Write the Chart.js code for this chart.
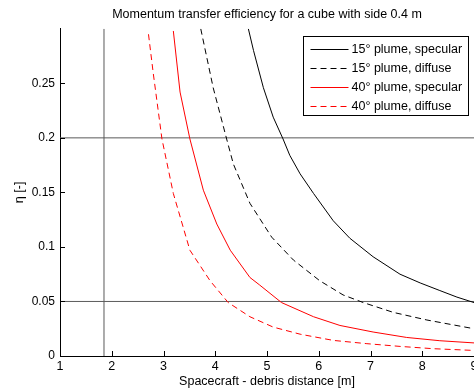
<!DOCTYPE html>
<html>
<head>
<meta charset="utf-8">
<script src="https://cdn.jsdelivr.net/npm/chart.js@4"></script>
<style>
html, body { margin: 0; padding: 0; background: #fff; }
#wrap { width: 474px; height: 392px; }
</style>
</head>
<body>
<div id="wrap"><canvas id="effChart"></canvas></div>
<script>
// values
var xTicks = [1, 2, 3, 4, 5, 6, 7, 8, 9];
var yTicks = [0, 0.05, 0.1, 0.15, 0.2, 0.25];

var spec15X = [4.64, 4.74, 4.93, 5.12, 5.31, 5.44, 5.64, 5.90, 6.28, 6.60, 7.05, 7.57, 7.96, 8.34, 8.67, 9.0];
var spec15Y = [0.300, 0.280, 0.246, 0.219, 0.199, 0.184, 0.167, 0.149, 0.124, 0.108, 0.091, 0.075, 0.067, 0.060, 0.054, 0.049];

var diff15X = [3.72, 3.96, 4.22, 4.35, 4.67, 5.09, 5.51, 6.02, 6.47, 6.86, 7.44, 8.09, 9.0];
var diff15Y = [0.300, 0.246, 0.199, 0.176, 0.140, 0.109, 0.088, 0.069, 0.056, 0.049, 0.040, 0.033, 0.025];

var spec40X = [3.19, 3.32, 3.51, 3.77, 4.03, 4.29, 4.67, 4.86, 5.28, 5.90, 6.41, 7.05, 7.70, 8.34, 9.0];
var spec40Y = [0.298, 0.242, 0.199, 0.152, 0.121, 0.097, 0.072, 0.065, 0.049, 0.036, 0.028, 0.022, 0.017, 0.014, 0.012];

var diff40X = [2.71, 2.80, 2.97, 3.19, 3.51, 3.90, 4.25, 4.67, 5.12, 5.64, 6.28, 6.93, 7.57, 8.21, 9.0];
var diff40Y = [0.295, 0.260, 0.199, 0.149, 0.097, 0.069, 0.049, 0.036, 0.0265, 0.020, 0.0143, 0.0113, 0.0088, 0.0067, 0.0051];

// threshold lines
var limitEta = [0.2, 0.05];
var limitDist = [1.85];

var xMin = 1, xMax = 9, yMin = 0, yMax = 0.3;
var chartTitle = 'Momentum transfer efficiency for a cube with side 0.4 m';

function pts(xs, ys) {
    return xs.map(function (x, i) { return { x: x, y: ys[i] }; });
}

var fontFam = '"Liberation Sans", Arial, Helvetica, sans-serif';
Chart.defaults.font.family = fontFam;
Chart.defaults.color = '#000';

var datasets = [
    { label: '15\u00b0 plume, specular', data: pts(spec15X, spec15Y), borderColor: '#000', borderDash: [] },
    { label: '15\u00b0 plume, diffuse', data: pts(diff15X, diff15Y), borderColor: '#000', borderDash: [6, 4] },
    { label: '40\u00b0 plume, specular', data: pts(spec40X, spec40Y), borderColor: '#ff0000', borderDash: [] },
    { label: '40\u00b0 plume, diffuse', data: pts(diff40X, diff40Y), borderColor: '#ff0000', borderDash: [6, 4] }
];
limitEta.forEach(function (v) {
    datasets.push({ ref: true, label: '', data: [{ x: xMin, y: v }, { x: xMax, y: v }], borderColor: '#5a5a5a' });
});
limitDist.forEach(function (v) {
    datasets.push({ ref: true, label: '', data: [{ x: v, y: yMin }, { x: v, y: yMax }], borderColor: '#5a5a5a' });
});
datasets.forEach(function (ds) {
    ds.borderWidth = 1;
    ds.pointRadius = 0;
    ds.fill = false;
    ds.tension = 0;
});

// title over the axes, inward tick marks + boxed legend, matlab style
var matlabBits = {
    id: 'matlabBits',
    afterDatasetsDraw: function (chart) {
        var ctx = chart.ctx, a = chart.chartArea;
        var xs = chart.scales.x, ys = chart.scales.y;
        ctx.save();
        ctx.fillStyle = '#000';
        ctx.font = '12.5px ' + fontFam;
        ctx.textAlign = 'center';
        ctx.textBaseline = 'middle';
        ctx.fillText(chartTitle, (a.left + a.right) / 2, 15);

        ctx.strokeStyle = '#000';
        ctx.lineWidth = 1;
        ctx.beginPath();
        xTicks.forEach(function (t) {
            var px = Math.round(xs.getPixelForValue(t)) + 0.5;
            ctx.moveTo(px, a.bottom);
            ctx.lineTo(px, a.bottom - 5);
        });
        yTicks.forEach(function (t) {
            var py = Math.round(ys.getPixelForValue(t)) + 0.5;
            ctx.moveTo(a.left, py);
            ctx.lineTo(a.left + 5, py);
        });
        ctx.stroke();

        // legend box
        var bx = 303.5, by = 36.5, bw = 165, bh = 79, rowH = 19;
        ctx.fillStyle = '#fff';
        ctx.fillRect(bx, by, bw, bh);
        ctx.strokeRect(bx, by, bw, bh);
        ctx.textAlign = 'left';
        chart.data.datasets.filter(function (ds) { return !ds.ref; }).forEach(function (ds, i) {
            var cy = Math.round(by + 12.5 + i * rowH) + 0.5;
            ctx.strokeStyle = ds.borderColor;
            ctx.setLineDash(ds.borderDash || []);
            ctx.beginPath();
            ctx.moveTo(bx + 7, cy);
            ctx.lineTo(bx + 45, cy);
            ctx.stroke();
            ctx.setLineDash([]);
            ctx.fillStyle = '#000';
            ctx.fillText(ds.label, bx + 48, cy);
        });
        ctx.restore();
    }
};

var ctx = document.getElementById('effChart').getContext('2d');
var myChart = new Chart(ctx, {
    type: 'line',
    data: { datasets: datasets },
    plugins: [matlabBits],
    options: {
        responsive: true,
        maintainAspectRatio: false,
        animation: false,
        layout: { padding: { top: 28.8, left: 0, right: 0, bottom: 0 } },
        scales: {
            x: {
                type: 'linear',
                min: xMin,
                max: xMax,
                grid: { display: false, drawTicks: false },
                border: { display: true, color: '#000', width: 1 },
                ticks: { font: { size: 12.5 }, padding: 3, color: '#000' },
                afterBuildTicks: function (scale) {
                    scale.ticks = xTicks.map(function (v) { return { value: v }; });
                },
                afterFit: function (scale) {
                    scale.height = 36;
                    scale.paddingLeft = 0;
                    scale.paddingRight = 0;
                },
                title: {
                    display: true,
                    text: 'Spacecraft - debris distance [m]',
                    font: { size: 12.5 },
                    color: '#000',
                    padding: { top: 0, bottom: 2.5 }
                }
            },
            y: {
                min: yMin,
                max: yMax,
                grid: { display: false, drawTicks: false },
                border: { display: true, color: '#000', width: 1 },
                ticks: {
                    font: { size: 12 },
                    padding: 5,
                    color: '#000',
                    callback: function (v) { return String(v); }
                },
                afterBuildTicks: function (scale) {
                    scale.ticks = yTicks.map(function (v) { return { value: v }; });
                },
                afterFit: function (scale) {
                    scale.width = 60;
                    scale.paddingTop = 0;
                    scale.paddingBottom = 0;
                },
                title: {
                    display: true,
                    text: '\u03b7 [-]',
                    font: { size: 12.5 },
                    color: '#000',
                    padding: { top: 12.5, bottom: 0 }
                }
            }
        },
        plugins: {
            legend: { display: false },
            tooltip: { enabled: false },
            title: { display: false }
        }
    }
});
</script>
</body>
</html>
